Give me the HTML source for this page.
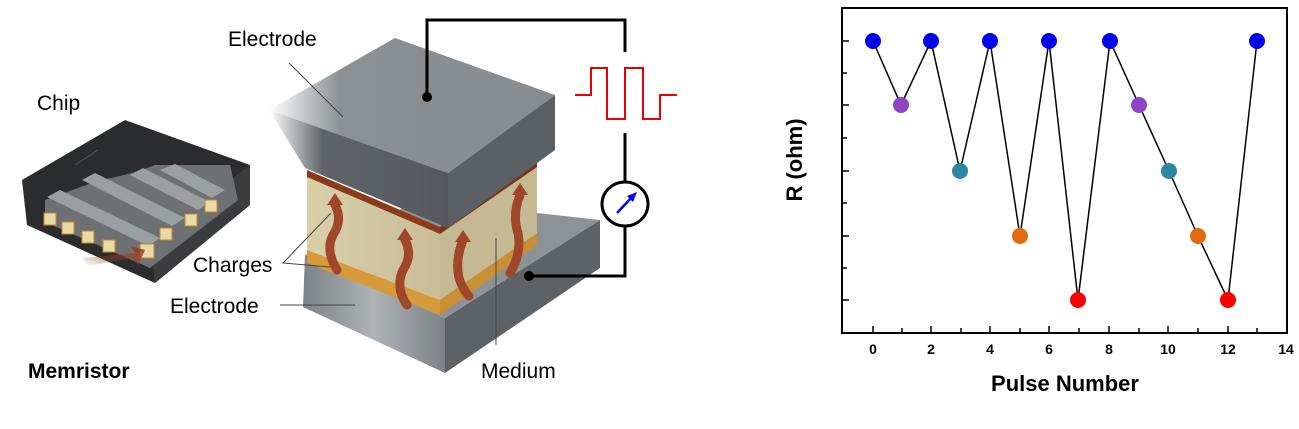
<!DOCTYPE html>
<html><head><meta charset="utf-8"><style>
body{margin:0;background:#fff;width:1299px;height:429px;overflow:hidden}
svg{display:block}
text{font-family:"Liberation Sans",sans-serif}
</style></head><body>
<svg width="1299" height="429" viewBox="0 0 1299 429" xmlns="http://www.w3.org/2000/svg">
<defs>
<linearGradient id="fadeL" x1="0" x2="1" y1="0" y2="0"><stop offset="0" stop-color="#5f6468" stop-opacity="0"/><stop offset="0.3" stop-color="#5f6468"/><stop offset="1" stop-color="#55595d"/></linearGradient>
<linearGradient id="topF" x1="0" x2="1" y1="0" y2="0"><stop offset="0" stop-color="#8a9094" stop-opacity="0"/><stop offset="0.25" stop-color="#8a9094"/><stop offset="1" stop-color="#868c90"/></linearGradient>
<linearGradient id="med" x1="0" x2="1"><stop offset="0" stop-color="#d9cfa8"/><stop offset="1" stop-color="#c8bd97"/></linearGradient>
<linearGradient id="botL" x1="0" x2="1"><stop offset="0" stop-color="#7d8286"/><stop offset="0.5" stop-color="#aeb3b6"/><stop offset="1" stop-color="#7d8286"/></linearGradient>
<linearGradient id="arrowG" x1="1" x2="0" y1="0" y2="1"><stop offset="0" stop-color="#9b3a20"/><stop offset="1" stop-color="#9b3a20" stop-opacity="0"/></linearGradient>
</defs>

<!-- chip -->
<polygon points="22,180 125,120 250,165 250,205 155,283 27,225" fill="#2a2c2e"/>
<polygon points="250,165 250,205 155,283 150,240" fill="#3a3c3e"/>
<path d="M45,200 L100,180 Q130,175 155,165 L230,165 L238,200 L150,268 L45,222 Z" fill="#6d7174"/>
<g fill="#9a9fa2">
<polygon points="47,197 60,190 160,238 148,246"/>
<polygon points="82,180 95,173 185,218 172,226"/>
<polygon points="130,175 143,168 210,202 198,210"/>
<polygon points="160,170 175,164 225,190 212,198"/>
</g>
<g fill="#e8d9a6" stroke="#c8862e" stroke-width="1">
<rect x="44" y="213" width="12" height="12"/><rect x="62" y="222" width="12" height="12"/><rect x="82" y="231" width="12" height="12"/><rect x="103" y="240" width="12" height="12"/><rect x="140" y="244" width="14" height="14"/>
<rect x="160" y="228" width="12" height="12"/><rect x="185" y="214" width="12" height="12"/><rect x="205" y="200" width="12" height="12"/>
</g>
<polygon points="83,258 135,253 130,246 145,250 138,266 132,258 88,266" fill="url(#arrowG)"/>
<line x1="75" y1="165" x2="98" y2="150" stroke="#555" stroke-width="1"/>
<text x="37" y="110" font-size="21">Chip</text>

<!-- bottom electrode -->
<polygon points="305,255 445,318 445,373 303,307" fill="url(#botL)"/>
<polygon points="445,318 600,220 600,268 445,373" fill="#5d6266"/>
<polygon points="305,255 420,200 600,220 445,318" fill="#8d9296"/>
<!-- medium -->
<polygon points="307,170 440,227 440,310 307,258" fill="url(#med)"/>
<polygon points="440,227 537,160 537,240 440,310" fill="#c4b993"/>
<polygon points="307,250 440,300 440,315 307,263" fill="#d79a3a"/>
<polygon points="440,300 537,233 537,245 440,315" fill="#c98f36"/>
<polygon points="307,170 440,227 440,234 307,177" fill="#8b3a1a"/>
<polygon points="440,227 537,160 537,167 440,234" fill="#7a3418"/>
<g fill="none" stroke="#a0462a" stroke-width="9" stroke-linecap="round">
<path d="M335,205 q8,15 -2,30 q-8,15 4,35"/>
<path d="M405,240 q8,15 -2,30 q-8,18 4,35"/>
<path d="M463,240 q-8,20 -4,38 q4,12 10,18"/>
<path d="M520,195 q-8,20 -2,38 q4,20 -8,40"/>
</g>
<g fill="#a0462a"><polygon points="327,205 335,193 343,205"/><polygon points="397,240 405,228 413,240"/><polygon points="455,242 463,230 471,242"/><polygon points="512,195 520,183 528,195"/></g>
<!-- top electrode -->
<polygon points="269,110 395,38 555,95 448,173" fill="url(#topF)"/>
<polygon points="269,110 448,173 448,228 305,168" fill="url(#fadeL)"/>
<polygon points="448,173 555,95 555,150 448,228" fill="#5b6064"/>

<!-- circuit -->
<polyline points="427,97 427,20 625,20 625,52" fill="none" stroke="#000" stroke-width="3"/>
<circle cx="427" cy="97" r="5"/>
<polyline points="575,95 591,95 591,68 607,68 607,119 625,119 625,68 643,68 643,119 660,119 660,95 677,95" fill="none" stroke="#e00" stroke-width="2"/>
<polyline points="625,133 625,182" fill="none" stroke="#000" stroke-width="3"/>
<ellipse cx="625" cy="204" rx="23" ry="22" fill="#fff" stroke="#000" stroke-width="3"/>
<line x1="617" y1="213" x2="633" y2="196" stroke="#00f" stroke-width="2.5"/>
<polygon points="637,192 627,196 633,202" fill="#00f"/>
<polyline points="625,226 625,276 529,276" fill="none" stroke="#000" stroke-width="3"/>
<circle cx="529" cy="276" r="5"/>

<g stroke="#444" stroke-width="1" fill="none">
<line x1="289" y1="63" x2="343" y2="117"/>
<polyline points="331,213 283,263 330,267"/>
<line x1="280" y1="305" x2="355" y2="305"/>
<line x1="496" y1="238" x2="496" y2="345"/>
</g>
<text x="228" y="46" font-size="21">Electrode</text>
<text x="193" y="272" font-size="21">Charges</text>
<text x="170" y="313" font-size="21">Electrode</text>
<text x="481" y="378" font-size="21">Medium</text>
<text x="28" y="378" font-size="21" font-weight="bold">Memristor</text>

<!-- chart -->
<rect x="842" y="8" width="445" height="325" fill="none" stroke="#000" stroke-width="2"/>
<g stroke="#000" stroke-width="1.5">
<line x1="842" y1="41" x2="849" y2="41"/><line x1="842" y1="73" x2="847" y2="73"/><line x1="842" y1="105" x2="849" y2="105"/><line x1="842" y1="138" x2="847" y2="138"/><line x1="842" y1="171" x2="849" y2="171"/><line x1="842" y1="203" x2="847" y2="203"/><line x1="842" y1="236" x2="849" y2="236"/><line x1="842" y1="268" x2="847" y2="268"/><line x1="842" y1="300" x2="849" y2="300"/>
<line x1="873" y1="333" x2="873" y2="326"/><line x1="902" y1="333" x2="902" y2="328"/><line x1="931" y1="333" x2="931" y2="326"/><line x1="961" y1="333" x2="961" y2="328"/><line x1="990" y1="333" x2="990" y2="326"/><line x1="1020" y1="333" x2="1020" y2="328"/><line x1="1049" y1="333" x2="1049" y2="326"/><line x1="1079" y1="333" x2="1079" y2="328"/><line x1="1109" y1="333" x2="1109" y2="326"/><line x1="1139" y1="333" x2="1139" y2="328"/><line x1="1168" y1="333" x2="1168" y2="326"/><line x1="1198" y1="333" x2="1198" y2="328"/><line x1="1228" y1="333" x2="1228" y2="326"/><line x1="1257" y1="333" x2="1257" y2="328"/>
</g>
<polyline points="873,41 901,105 931,41 960,171 990,41 1020,236 1049,41 1078,300 1110,41 1139,105 1169,171 1198,236 1228,300 1257,41" fill="none" stroke="#000" stroke-width="1.5"/>
<g>
<circle cx="873" cy="41" r="8" fill="#0000f0"/><circle cx="901" cy="105" r="8" fill="#8e44c4"/><circle cx="931" cy="41" r="8" fill="#0000f0"/><circle cx="960" cy="171" r="8" fill="#2e86a0"/><circle cx="990" cy="41" r="8" fill="#0000f0"/><circle cx="1020" cy="236" r="8" fill="#e06a10"/><circle cx="1049" cy="41" r="8" fill="#0000f0"/><circle cx="1078" cy="300" r="8" fill="#f00"/><circle cx="1110" cy="41" r="8" fill="#0000f0"/><circle cx="1139" cy="105" r="8" fill="#8e44c4"/><circle cx="1169" cy="171" r="8" fill="#2e86a0"/><circle cx="1198" cy="236" r="8" fill="#e06a10"/><circle cx="1228" cy="300" r="8" fill="#f00"/><circle cx="1257" cy="41" r="8" fill="#0000f0"/>
</g>
<g font-size="14" font-weight="bold" text-anchor="middle">
<text x="873" y="354">0</text><text x="931" y="354">2</text><text x="990" y="354">4</text><text x="1049" y="354">6</text><text x="1109" y="354">8</text><text x="1168" y="354">10</text><text x="1228" y="354">12</text><text x="1286" y="354">14</text>
</g>
<text x="1065" y="391" font-size="22" font-weight="bold" text-anchor="middle">Pulse Number</text>
<text transform="translate(802,160) rotate(-90)" font-size="22" font-weight="bold" text-anchor="middle">R (ohm)</text>
</svg>
</body></html>
